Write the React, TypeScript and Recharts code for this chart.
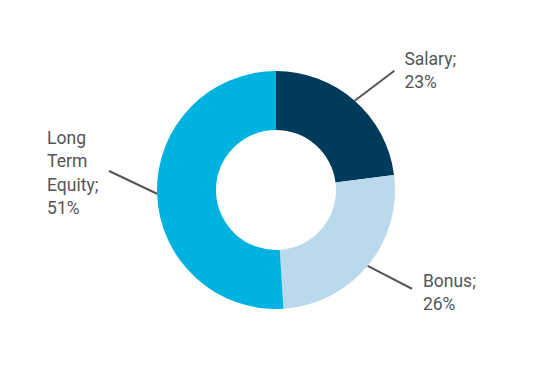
import { PieChart, Pie, Cell } from "recharts"

const categories = ["Salary", "Bonus", "Long Term Equity"]
const shares = [23, 26, 51]
const labelLines = [["Salary;", "23%"], ["Bonus;", "26%"], ["Long", "Term", "Equity;", "51%"]]
const colors = ["#003b5c", "#bad9ea", "#00b2e0"]

const data = categories.map((name, i) => ({ name, value: shares[i] }))

const RAD = Math.PI / 180
// where the leader line ends (angle tweak) and where the text sits relative to that end
const layout = [
  { dAngle: -3.4, tx: 10, ty: -6 },
  { dAngle: 3.6, tx: 11, ty: -2 },
  { dAngle: -8.3, tx: -62, ty: -27 },
]

function renderLabel(props: any) {
  const { cx, cy, midAngle, outerRadius, index } = props
  const l = layout[index]
  const sx = cx + outerRadius * Math.cos(-midAngle * RAD)
  const sy = cy + outerRadius * Math.sin(-midAngle * RAD)
  const ea = midAngle + l.dAngle
  const er = outerRadius + 49
  const ex = cx + er * Math.cos(-ea * RAD)
  const ey = cy + er * Math.sin(-ea * RAD)
  return (
    <g>
      <line x1={sx} y1={sy} x2={ex} y2={ey} stroke="#555" strokeWidth={2} />
      <text
        x={ex + l.tx}
        y={ey + l.ty}
        textAnchor="start"
        fill="#555"
        fontSize={17.5}
        fontFamily="Roboto"
      >
        {labelLines[index].map((t, k) => (
          <tspan key={k} x={ex + l.tx} dy={k === 0 ? 0 : 23.5}>
            {t}
          </tspan>
        ))}
      </text>
    </g>
  )
}

export default function App() {
  return (
    <PieChart width={542} height={372} margin={{ top: 0, right: 0, bottom: 0, left: 0 }}>
      <Pie
        data={data}
        dataKey="value"
        nameKey="name"
        cx={268}
        cy={182}
        innerRadius={60}
        outerRadius={119}
        startAngle={90}
        endAngle={-270}
        stroke="none"
        label={renderLabel}
        labelLine={false}
        isAnimationActive={false}
      >
        {data.map((d, i) => (
          <Cell key={d.name} fill={colors[i]} />
        ))}
      </Pie>
    </PieChart>
  )
}
